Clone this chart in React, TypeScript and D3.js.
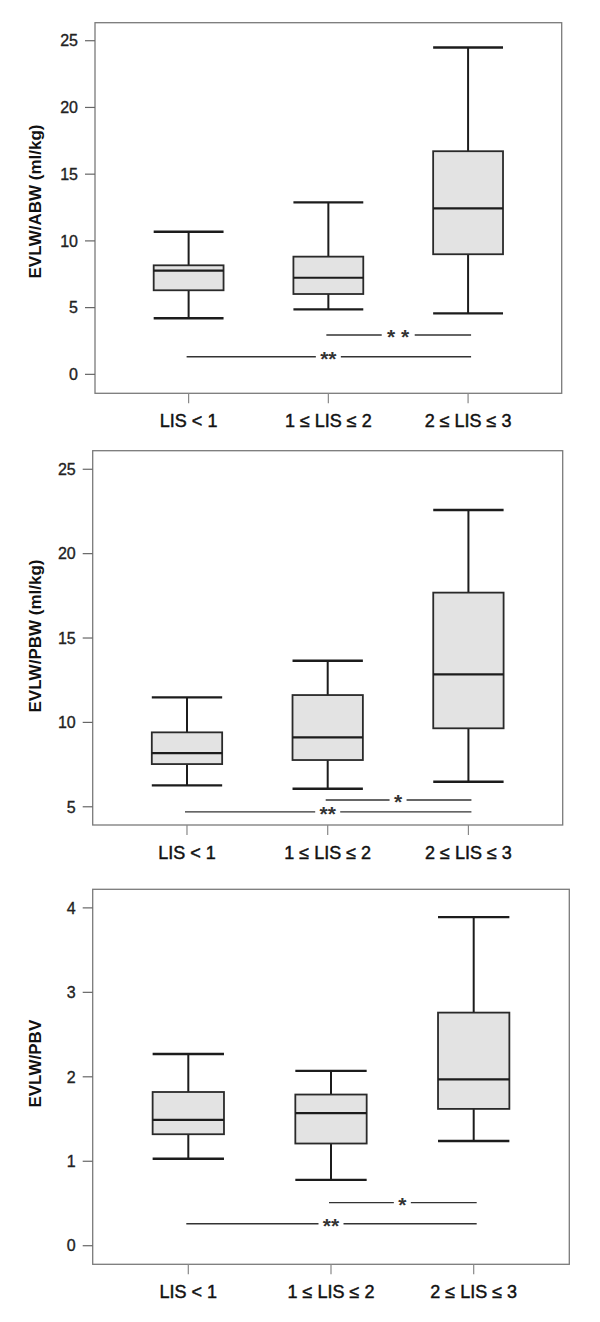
import React from "react";
import * as d3 from "d3";

const categories = ["LIS < 1", "1 ≤ LIS ≤ 2", "2 ≤ LIS ≤ 3"];

// [min, q1, median, q3, max]
const abwStats = [
  [4.2, 6.3, 7.77, 8.17, 10.69],
  [4.87, 6.02, 7.24, 8.82, 12.89],
  [4.57, 9.0, 12.44, 16.72, 24.49],
];
const pbwStats = [
  [6.27, 7.53, 8.18, 9.41, 11.48],
  [6.07, 7.77, 9.11, 11.62, 13.65],
  [6.48, 9.65, 12.85, 17.69, 22.59],
];
const pbvStats = [
  [1.03, 1.32, 1.49, 1.82, 2.27],
  [0.78, 1.21, 1.57, 1.79, 2.07],
  [1.24, 1.62, 1.97, 2.76, 3.89],
];

const abwTicks = [0, 5, 10, 15, 20, 25];
const pbwTicks = [5, 10, 15, 20, 25];
const pbvTicks = [0, 1, 2, 3, 4];

const abwSig = [
  { from: 1, to: 2, y: 2.95, label: "* *" },
  { from: 0, to: 2, y: 1.32, label: "**" },
];
const pbwSig = [
  { from: 1, to: 2, y: 5.4, label: "*" },
  { from: 0, to: 2, y: 4.7, label: "**" },
];
const pbvSig = [
  { from: 1, to: 2, y: 0.51, label: "*" },
  { from: 0, to: 2, y: 0.26, label: "**" },
];

const panels = [
  {
    title: "EVLW/ABW (ml/kg)",
    stats: abwStats,
    ticks: abwTicks,
    sig: abwSig,
    domain: [-1.42, 26.35],
    frame: { l: 95, t: 22.7, r: 561.7, b: 393.3 },
    titleY: 201.5,
  },
  {
    title: "EVLW/PBW (ml/kg)",
    stats: pbwStats,
    ticks: pbwTicks,
    sig: pbwSig,
    domain: [3.92, 26.1],
    frame: { l: 92.7, t: 450.7, r: 562.7, b: 825 },
    titleY: 636,
  },
  {
    title: "EVLW/PBV",
    stats: pbvStats,
    ticks: pbvTicks,
    sig: pbvSig,
    domain: [-0.22, 4.22],
    frame: { l: 92.7, t: 889.3, r: 569.3, b: 1264.3 },
    titleY: 1063.7,
  },
];

const FONT = "'Liberation Sans', Arial, Helvetica, sans-serif";

function Panel({ p }: { p: any }) {
  const { l, t, r, b } = p.frame;
  const x = d3
    .scaleBand<string>()
    .domain(categories)
    .range([l, r])
    .paddingInner(0)
    .paddingOuter(0.17);
  const y = d3.scaleLinear().domain(p.domain).range([b, t]);
  const bw = x.bandwidth() * 0.5;
  const cx = (i: number) => (x(categories[i]) as number) + x.bandwidth() / 2;
  const ink = "#1c1c1c";

  return (
    <g>
      <rect x={l} y={t} width={r - l} height={b - t} fill="#fff" stroke="#7a7a7a" strokeWidth={1.3} />
      {/* y axis ticks */}
      {p.ticks.map((v: number) => (
        <g key={v}>
          <line x1={l - 10} x2={l} y1={y(v)} y2={y(v)} stroke="#666" strokeWidth={1.2} />
          <text
            x={l - 17}
            y={y(v)}
            dy="0.36em"
            textAnchor="end"
            fontFamily={FONT}
            fontSize={16}
            fill="#222"
            stroke="#222"
            strokeWidth={0.35}
          >
            {d3.format("d")(v)}
          </text>
        </g>
      ))}
      {/* x axis ticks */}
      {categories.map((c, i) => (
        <g key={c}>
          <line x1={cx(i)} x2={cx(i)} y1={b} y2={b + 10} stroke="#888" strokeWidth={1.2} />
          <text
            x={cx(i)}
            y={b + 34}
            textAnchor="middle"
            fontFamily={FONT}
            fontSize={18}
            fill="#111"
            stroke="#111"
            strokeWidth={0.45}
          >
            {c}
          </text>
        </g>
      ))}
      {/* y title */}
      <text
        transform={`translate(${41},${p.titleY}) rotate(-90)`}
        textAnchor="middle"
        fontFamily={FONT}
        fontWeight="bold"
        fontSize={17}
        fill="#111"
      >
        {p.title}
      </text>
      {/* boxes */}
      {p.stats.map((s: number[], i: number) => {
        const c = cx(i);
        const [mn, q1, md, q3, mx] = s;
        return (
          <g key={i}>
            <line x1={c} x2={c} y1={y(mx)} y2={y(q3)} stroke={ink} strokeWidth={2} />
            <line x1={c} x2={c} y1={y(q1)} y2={y(mn)} stroke={ink} strokeWidth={2} />
            <line x1={c - bw / 2} x2={c + bw / 2} y1={y(mx)} y2={y(mx)} stroke={ink} strokeWidth={2.4} />
            <line x1={c - bw / 2} x2={c + bw / 2} y1={y(mn)} y2={y(mn)} stroke={ink} strokeWidth={2.4} />
            <rect
              x={c - bw / 2}
              y={y(q3)}
              width={bw}
              height={y(q1) - y(q3)}
              fill="#e3e3e3"
              stroke="#2a2a2a"
              strokeWidth={1.8}
            />
            <line x1={c - bw / 2} x2={c + bw / 2} y1={y(md)} y2={y(md)} stroke={ink} strokeWidth={2.2} />
          </g>
        );
      })}
      {/* significance brackets */}
      {p.sig.map((s: any, k: number) => {
        const x1 = cx(s.from) - 2;
        const x2 = cx(s.to) + 3;
        const lx = (cx(s.from) + cx(s.to)) / 2;
        const half = (s.label.length * 8 + 9) / 2;
        const yy = y(s.y);
        return (
          <g key={k}>
            <line x1={x1} x2={lx - half} y1={yy} y2={yy} stroke="#333" strokeWidth={1.4} />
            <line x1={lx + half} x2={x2} y1={yy} y2={yy} stroke="#333" strokeWidth={1.4} />
            <text
              x={lx}
              y={yy + 9}
              textAnchor="middle"
              fontFamily={FONT}
              fontWeight="bold"
              fontSize={21}
              fill="#333"
            >
              {s.label}
            </text>
          </g>
        );
      })}
    </g>
  );
}

export default function App() {
  return (
    <svg
      width={600}
      height={1322}
      viewBox="0 0 600 1322"
      style={{ position: "absolute", left: 0, top: 0, background: "#fff" }}
    >
      <rect width={600} height={1322} fill="#fff" />
      {panels.map((p, i) => (
        <Panel key={i} p={p} />
      ))}
    </svg>
  );
}
